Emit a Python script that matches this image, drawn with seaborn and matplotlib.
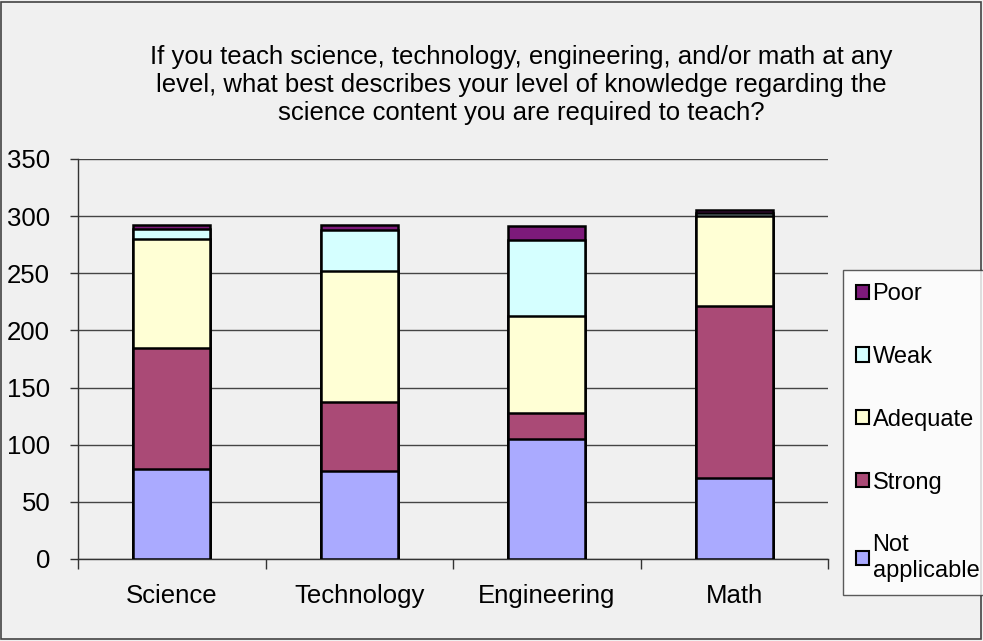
import matplotlib
matplotlib.use("Agg")
import matplotlib.pyplot as plt
from matplotlib.patches import Patch, Rectangle
import seaborn as sns
import pandas as pd
import numpy as np

subjects = ["Science", "Technology", "Engineering", "Math"]
not_applicable = [79, 77, 105, 71]
strong = [106, 60, 23, 150]
adequate = [95, 115, 85, 79]
weak = [9, 36, 66, 3]
poor = [3, 4, 12, 2]

series_names = ["Not applicable", "Strong", "Adequate", "Weak", "Poor"]
series_values = [not_applicable, strong, adequate, weak, poor]
colors = ["#AAAAFF", "#AA4A76", "#FFFFD5", "#D5FFFF", "#7D1A7A"]
legend_labels = ["Not\napplicable", "Strong", "Adequate", "Weak", "Poor"]

title = ("If you teach science, technology, engineering, and/or math at any\n"
         "level, what best describes your level of knowledge regarding the\n"
         "science content you are required to teach?")

sns.set_theme(style="white")
plt.rcParams['font.family'] = ['Liberation Sans', 'DejaVu Sans']

bg = "#F0F0F0"
fig = plt.figure(figsize=(9.83, 6.41), dpi=100, facecolor=bg)
ax = fig.add_axes([78/983, 1-559/641, (828-78)/983, (559-159)/641])
ax.set_facecolor(bg)

df = pd.DataFrame({"subject": subjects})
cum = np.zeros(len(subjects))
cums = []
for vals in series_values:
    cum = cum + np.array(vals)
    cums.append(cum.copy())

# draw from tallest cumulative down so lower segments overlay
for name, c, col in reversed(list(zip(series_names, cums, colors))):
    d = df.copy()
    d["value"] = c
    sns.barplot(data=d, x="subject", y="value", color=col, ax=ax,
                width=0.41, edgecolor="black", linewidth=1.8,
                saturation=1, zorder=3)

ax.set_ylim(0, 350)
ax.set_xlim(-0.5, 3.5)
ax.set_yticks(range(0, 351, 50))
ax.yaxis.grid(True, color="#444444", linewidth=1.0, zorder=0)
ax.set_axisbelow(True)
ax.set_xlabel("")
ax.set_ylabel("")
for s in ["top", "right"]:
    ax.spines[s].set_visible(False)
for s in ["left", "bottom"]:
    ax.spines[s].set_color("#333333")
    ax.spines[s].set_linewidth(1.0)

ax.tick_params(axis="y", labelsize=18.5, length=6, width=1, color="#333333",
               left=True, pad=14, labelcolor="black", direction="out")
ax.tick_params(axis="x", which="major", labelsize=18.5, length=0, pad=18,
               labelcolor="black")
ax.set_xticks(np.arange(-0.5, 3.6, 1.0), minor=True)
ax.tick_params(axis="x", which="minor", length=7, width=1, color="#333333",
               bottom=True, direction="out")

fig.text(521/983, 1-85/641, title, ha="center", va="center", fontsize=18.5,
         linespacing=1.22, color="black")

handles = [Patch(facecolor=col, edgecolor="black", linewidth=1.5)
           for col in colors]
leg = fig.legend(handles[::-1], legend_labels[::-1],
                 loc="upper left", bbox_to_anchor=(843/983, 1-270/641),
                 frameon=True, fontsize=17, labelspacing=1.73,
                 handlelength=0.55, handleheight=0.55, handletextpad=0.15,
                 borderpad=0.55, borderaxespad=0, fancybox=False,
                 facecolor="white", edgecolor="#333333")
leg.get_frame().set_linewidth(1.0)
for t in leg.get_texts():
    t.set_color("black")

fig.patches.append(Rectangle((0.0015, 0.0025), 0.996, 0.994,
                             transform=fig.transFigure, fill=False,
                             edgecolor="#444444", linewidth=1.2))

fig.savefig("out.png", dpi=100, facecolor=bg)
